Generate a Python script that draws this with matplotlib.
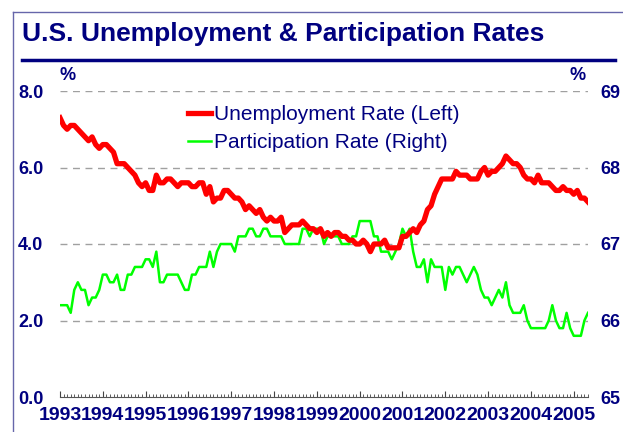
import matplotlib.pyplot as plt
from matplotlib.lines import Line2D
import numpy as np

plt.rcParams['font.family'] = ['Liberation Sans', 'DejaVu Sans']

years = [str(y) for y in range(1993, 2006)]
left_ticks = [0, 2, 4, 6, 8]
left_labels = ['0.0', '2.0', '4.0', '6.0', '8.0']
right_ticks = [65, 66, 67, 68, 69]
right_labels = ['65', '66', '67', '68', '69']

# monthly, Jan 1993 - May 2005
unemployment = [
    7.3, 7.1, 7.0, 7.1, 7.1, 7.0, 6.9, 6.8, 6.7, 6.8, 6.6, 6.5,
    6.6, 6.6, 6.5, 6.4, 6.1, 6.1, 6.1, 6.0, 5.9, 5.8, 5.6, 5.5,
    5.6, 5.4, 5.4, 5.8, 5.6, 5.6, 5.7, 5.7, 5.6, 5.5, 5.6, 5.6,
    5.6, 5.5, 5.5, 5.6, 5.6, 5.3, 5.5, 5.1, 5.2, 5.2, 5.4, 5.4,
    5.3, 5.2, 5.2, 5.1, 4.9, 5.0, 4.9, 4.8, 4.9, 4.7, 4.6, 4.7,
    4.6, 4.6, 4.7, 4.3, 4.4, 4.5, 4.5, 4.5, 4.6, 4.5, 4.4, 4.4,
    4.3, 4.4, 4.2, 4.3, 4.2, 4.3, 4.3, 4.2, 4.2, 4.1, 4.1, 4.0,
    4.0, 4.1, 4.0, 3.8, 4.0, 4.0, 4.0, 4.1, 3.9, 3.9, 3.9, 3.9,
    4.2, 4.2, 4.3, 4.4, 4.3, 4.5, 4.6, 4.9, 5.0, 5.3, 5.5, 5.7,
    5.7, 5.7, 5.7, 5.9, 5.8, 5.8, 5.8, 5.7, 5.7, 5.7, 5.9, 6.0,
    5.8, 5.9, 5.9, 6.0, 6.1, 6.3, 6.2, 6.1, 6.1, 6.0, 5.8, 5.7,
    5.7, 5.6, 5.8, 5.6, 5.6, 5.6, 5.5, 5.4, 5.4, 5.5, 5.4, 5.4,
    5.3, 5.4, 5.2, 5.2, 5.1,
]
participation = [
    66.2, 66.2, 66.2, 66.1, 66.4, 66.5, 66.4, 66.4, 66.2, 66.3, 66.3, 66.4,
    66.6, 66.6, 66.5, 66.5, 66.6, 66.4, 66.4, 66.6, 66.6, 66.7, 66.7, 66.7,
    66.8, 66.8, 66.7, 66.9, 66.5, 66.5, 66.6, 66.6, 66.6, 66.6, 66.5, 66.4,
    66.4, 66.6, 66.6, 66.7, 66.7, 66.7, 66.9, 66.7, 66.9, 67.0, 67.0, 67.0,
    67.0, 66.9, 67.1, 67.1, 67.1, 67.2, 67.2, 67.1, 67.1, 67.2, 67.2, 67.1,
    67.1, 67.1, 67.1, 67.0, 67.0, 67.0, 67.0, 67.0, 67.2, 67.2, 67.1, 67.2,
    67.2, 67.2, 67.0, 67.1, 67.1, 67.1, 67.1, 67.0, 67.0, 67.0, 67.1, 67.1,
    67.3, 67.3, 67.3, 67.3, 67.1, 67.1, 66.9, 66.9, 66.9, 66.8, 66.9, 67.0,
    67.2, 67.1, 67.2, 66.9, 66.7, 66.7, 66.8, 66.5, 66.8, 66.7, 66.7, 66.7,
    66.4, 66.7, 66.6, 66.7, 66.7, 66.6, 66.5, 66.6, 66.7, 66.6, 66.4, 66.3,
    66.3, 66.2, 66.3, 66.4, 66.3, 66.5, 66.2, 66.1, 66.1, 66.1, 66.2, 66.0,
    65.9, 65.9, 65.9, 65.9, 65.9, 66.0, 66.2, 66.0, 65.9, 65.9, 66.1, 65.9,
    65.8, 65.8, 65.8, 66.0, 66.1,
]

navy = '#000080'
W, H = 623, 432
x = np.arange(len(unemployment))

fig = plt.figure(figsize=(W / 100, H / 100), dpi=100)
ax = fig.add_axes([60 / W, 35 / H, 528 / W, 306 / H])
ax2 = ax.twinx()
ax.set_zorder(ax2.get_zorder() + 1)
ax.patch.set_visible(False)

g_line, = ax2.plot(x, participation, color='#00FF00', lw=1.8,
                   label='Participation Rate (Right)')
r_line, = ax.plot(x, unemployment, color='#FF0000', lw=3.8,
                  label='Unemployment Rate (Left)')

ax.set_xlim(0, len(x) - 1)
ax.set_ylim(0, 8)
ax2.set_ylim(65, 69)

ax.set_xticks(np.arange(0, len(x), 12))
ax.set_xticklabels(years, fontweight='bold')
ax.set_xticks(x, minor=True)
ax.tick_params(axis='x', which='major', direction='in', length=4, width=0.8,
               color='#444444', labelsize=14, labelcolor=navy, pad=7)
ax.tick_params(axis='x', which='minor', direction='in', length=2, width=0.6,
               color='#444444')

ax.set_yticks(left_ticks)
ax.set_yticklabels(left_labels, fontweight='bold')
ax.tick_params(axis='y', length=0, pad=12, labelsize=13, labelcolor=navy)
ax2.set_yticks(right_ticks)
ax2.set_yticklabels(right_labels, fontweight='bold')
ax2.tick_params(axis='y', length=0, pad=9, labelsize=13, labelcolor=navy)

ax2.grid(axis='y', color='#A0A0A0', lw=1.0, linestyle=(0, (5, 4)))
ax2.yaxis.get_gridlines()[0].set_visible(False)

for s in ['top', 'left', 'right']:
    ax.spines[s].set_visible(False)
ax.spines['bottom'].set_color('#555555')
ax.spines['bottom'].set_linewidth(0.8)
for s in ax2.spines.values():
    s.set_visible(False)

ax.legend(handles=[r_line, g_line], loc='upper left',
          bbox_to_anchor=(188 / W, 1 - 105 / H), bbox_transform=fig.transFigure,
          frameon=False, fontsize=15, labelcolor=navy, handlelength=1.1,
          handletextpad=0.15, labelspacing=0.45, borderpad=0, borderaxespad=0)

fig.text(68 / W, 1 - 75 / H, '%', ha='center', va='center', fontsize=13,
         fontweight='bold', color=navy)
fig.text(578 / W, 1 - 75 / H, '%', ha='center', va='center', fontsize=13,
         fontweight='bold', color=navy)

fig.text(22 / W, 1 - 34 / H, 'U.S. Unemployment & Participation Rates',
         ha='left', va='center', fontsize=19, fontweight='bold', color=navy)
fig.add_artist(Line2D([22 / W, 615 / W], [1 - 60 / H, 1 - 60 / H],
                      transform=fig.transFigure, color=navy, lw=2.5))
# slide border
fig.add_artist(Line2D([13 / W, 13 / W], [0, 1 - 12 / H],
                      transform=fig.transFigure, color='#6666AA', lw=1))
fig.add_artist(Line2D([13 / W, 1], [1 - 12 / H, 1 - 12 / H],
                      transform=fig.transFigure, color='#6666AA', lw=1))

fig.savefig('out.png', dpi=100)
